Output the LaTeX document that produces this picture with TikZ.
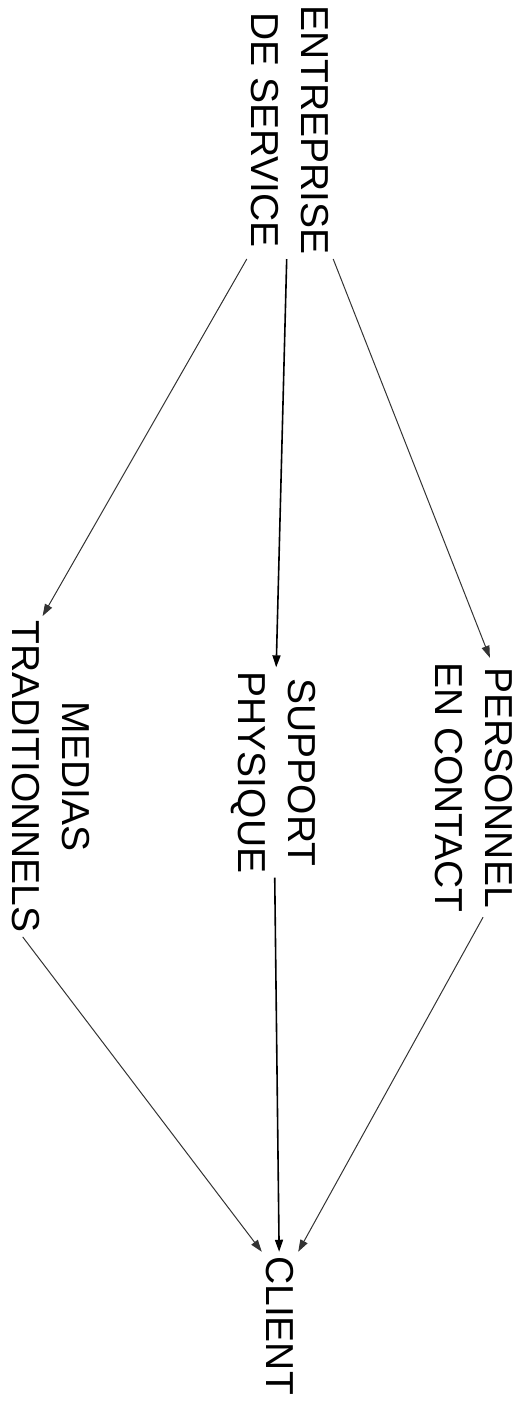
\documentclass[tikz,border=0pt]{standalone}
\usepackage{fontspec}
\setmainfont{Liberation Sans}
\usetikzlibrary{arrows.meta}

\begin{document}
\begin{tikzpicture}[x=0.5pt, y=-0.5pt,
            lbl/.style={rotate=-90, align=center, inner sep=2pt,
                font=\fontsize{19.5}{25}\selectfont},
            link/.style={-{Triangle[length=6pt,width=4pt]}, line width=0.5pt, black!80},
            mainlink/.style={link, line width=0.8pt, black}]
            \useasboundingbox (0,0) rectangle (518,1403);

            % labels, turned a quarter to the right
            \node[lbl] (ent) at (290,130) {ENTREPRISE\\DE SERVICE};
            \node[lbl] (per) at (474,787.5) {PERSONNEL\\EN CONTACT};
            \node[lbl] (sup) at (273.5,772.5) {SUPPORT\\PHYSIQUE};
            \node[lbl] (mes) at (51,776.5) {MEDIAS\\TRADITIONNELS};
            \node[lbl] (cli) at (280,1325.5) {CLIENT};

            % from the firm to the three channels
            \draw[link] (ent.north east) -- (per.173);
            \draw[mainlink] (ent) -- (sup);
            \draw[link] (ent.south east) -- (mes.183);

            % from the channels to the client
            \draw[link] (per.4) -- (cli.north west);
            \draw[mainlink] (sup) -- (cli);
            \draw[link] (mes.-10) -- (cli.south west);
        \end{tikzpicture}
\end{document}
